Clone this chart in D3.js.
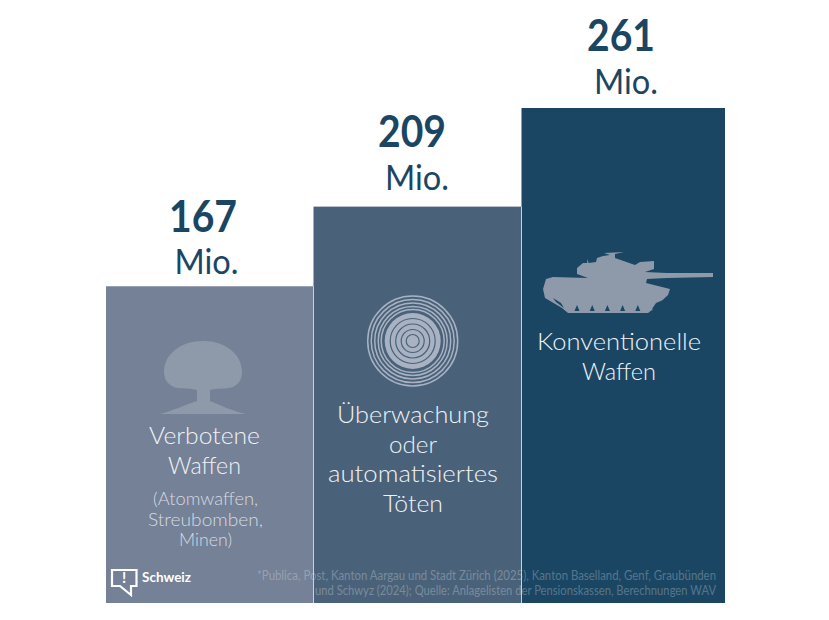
<!DOCTYPE html>
<html lang="de">
<head>
<meta charset="utf-8">
<script src="https://cdn.jsdelivr.net/npm/d3@7"></script>
<style>
  html, body { margin: 0; background: #fff; }
  svg { display: block; }
  text { font-family: Lato, "Noto Sans", sans-serif; }
</style>
</head>
<body>
<svg id="chart" width="829" height="620"></svg>
<script>
const categories = ["Verbotene Waffen", "Überwachung oder automatisiertes Töten", "Konventionelle Waffen"];
const values = [167, 209, 261];
const barColors = ["#748196", "#4a6279", "#1a4663"];
const labelLines = [
  ["Verbotene", "Waffen"],
  ["Überwachung", "oder", "automatisiertes", "Töten"],
  ["Konventionelle", "Waffen"]
];
const subLines = ["(Atomwaffen,", "Streubomben,", "Minen)"];
const footnoteLines = [
  "*Publica, Post, Kanton Aargau und Stadt Zürich (2025), Kanton Baselland, Genf, Graubünden",
  "und Schwyz (2024); Quelle: Anlagelisten der Pensionskassen, Berechnungen WAV"
];
const unit = "Mio.";
const brand = "Schweiz";

const svg = d3.select("#chart");
const navy = "#1a4663";

// Bars sit edge to edge on a shared baseline; the last one is a little narrower.
const xEdge = d3.scaleLinear().domain([0, 1, 2, 3]).range([106, 313.5, 521.5, 725]);
const y = d3.scaleLinear().domain([0, 261]).range([603, 108]);

// Text columns are set slightly off the bar centres.
const numberX = d3.scaleLinear().domain([0, 2]).range([203, 621]);
const unitX = d3.scaleLinear().domain([0, 1, 2]).range([206.5, 417, 626]);
const labelX = d3.scaleLinear().domain([0, 1, 2]).range([204.5, 413, 619]);
const numberY = [232, 147, 51];
const unitY = [274, 190, 94];

svg.selectAll("rect.bar").data(values).join("rect")
  .attr("class", "bar")
  .attr("x", (d, i) => xEdge(i))
  .attr("width", (d, i) => xEdge(i + 1) - xEdge(i))
  .attr("y", d => y(d))
  .attr("height", d => y(0) - y(d))
  .attr("fill", (d, i) => barColors[i]);

// Value headings above each bar
svg.selectAll("text.num").data(values).join("text")
  .attr("class", "num")
  .attr("x", (d, i) => numberX(i)).attr("y", (d, i) => numberY[i])
  .attr("text-anchor", "middle")
  .attr("font-size", 43).attr("font-weight", 700).attr("fill", navy)
  .attr("textLength", 68).attr("lengthAdjust", "spacingAndGlyphs")
  .text(d => d);
svg.selectAll("text.unit").data(values).join("text")
  .attr("class", "unit")
  .attr("x", (d, i) => unitX(i)).attr("y", (d, i) => unitY[i])
  .attr("text-anchor", "middle")
  .attr("font-size", 35).attr("fill", navy)
  .attr("textLength", 64).attr("lengthAdjust", "spacingAndGlyphs")
  .text(unit);

// Multi-line labels inside the bars
const labelTop = [444, 423, 350];
const labelWidths = [[111, 73], [152, 48, 170, 60], [164, 74]];
labelLines.forEach((lines, i) => {
  lines.forEach((line, k) => {
    svg.append("text")
      .attr("x", labelX(i)).attr("y", labelTop[i] + k * 29.6)
      .attr("text-anchor", "middle")
      .attr("font-size", 24).attr("fill", "#f0f2f6").attr("font-weight", 300)
      .attr("textLength", labelWidths[i][k]).attr("lengthAdjust", "spacingAndGlyphs")
      .text(line);
  });
});
const subWidths = [105, 115, 53];
subLines.forEach((line, k) => {
  svg.append("text")
    .attr("x", labelX(0) + 1).attr("y", 505 + k * 20.5)
    .attr("text-anchor", "middle")
    .attr("font-size", 17).attr("fill", "#d6dae2").attr("font-weight", 300)
    .attr("textLength", subWidths[k]).attr("lengthAdjust", "spacingAndGlyphs")
    .text(line);
});

// Footnote runs across all bars
const footWidths = [459, 401];
footnoteLines.forEach((line, k) => {
  svg.append("text")
    .attr("x", 716).attr("y", 580 + k * 15)
    .attr("text-anchor", "end")
    .attr("font-size", 12.5).attr("fill", "#fff").attr("fill-opacity", 0.27)
    .attr("textLength", footWidths[k]).attr("lengthAdjust", "spacingAndGlyphs")
    .text(line);
});

// Hairline dividers drawn over the footnote
svg.selectAll("line.div").data([1, 2]).join("line")
  .attr("class", "div")
  .attr("x1", d => xEdge(d)).attr("x2", d => xEdge(d))
  .attr("y1", d => y(values[d - 1]))
  .attr("y2", y(0))
  .attr("stroke", "#c9d1da").attr("stroke-width", 1);

// Mushroom cloud icon
const iconFill = "#8e99aa";
svg.append("path").attr("fill", iconFill)
  .attr("d", "M203 341C181 341 164 354 164 372C164 381 170 387 178 388C184 389 190 388 197 390L197 401C185 405 172 411 160 414L246 414C232 411 220 405 210 401L210 390C217 388 224 389 229 388C237 387 242 381 242 372C242 354 225 341 203 341Z");

// Concentric rings icon: a solid core cut by thin rings, with fine rings around it
const ringColor = "#a8b2c3";
const ringBack = barColors[1];
const outerRings = [45, 41.5, 38, 34.5, 31.5];
const coreCuts = [6.5, 11.5, 17, 22.5];
const rings = svg.append("g").attr("transform", "translate(412.7,341)");
rings.selectAll("circle.outer").data(outerRings).join("circle")
  .attr("class", "outer").attr("r", d => d)
  .attr("fill", "none").attr("stroke", ringColor).attr("stroke-width", 1.5);
rings.append("circle").attr("r", 28).attr("fill", ringColor);
rings.selectAll("circle.cut").data(coreCuts).join("circle")
  .attr("class", "cut").attr("r", d => d)
  .attr("fill", "none").attr("stroke", ringBack).attr("stroke-width", 1.2);

// Tank silhouette icon
svg.append("path").attr("fill", iconFill)
  .attr("d", "M543 289L546 279L553 277L588 278L577 274L577 268L583 263L587 263L587.500 259L588.500 263L596 262L597 258L603 256L610 255L604 253L624 252L615 254L615 258L635 265L640 262L654 261L654 269L645 272L667 273L713 273L713 277L667 278L647 279L646 283L670 289L668 295L652 310L648 313L568 313L562 308L545 298Z");
svg.append("g").attr("fill", navy).selectAll("path").data([0, 1, 2, 3, 4]).join("path")
  .attr("d", d => `M${574.500 + d * 15.2} 311L${577 + d * 15.2} 305L${579.500 + d * 15.2} 311Z`);
svg.append("g").attr("fill", navy).selectAll("path")
  .data(["M553 298L561 303L564 308L556 302Z", "M656 303L663 300L655 309L652 309Z"]).join("path")
  .attr("d", d => d);

// Brand badge
svg.append("path").attr("fill", "none").attr("stroke", "#fff").attr("stroke-width", 2.2)
  .attr("d", "M112 570L136.500 570L136.500 586L131 586L131 595L120 586L112 586Z");
svg.append("text").attr("x", 124).attr("y", 583).attr("text-anchor", "middle")
  .attr("font-size", 15).attr("font-weight", 700).attr("fill", "#fff").text("!");
svg.append("text").attr("x", 142).attr("y", 582)
  .attr("font-size", 14).attr("font-weight", 700).attr("fill", "#fff")
  .attr("textLength", 49).attr("lengthAdjust", "spacingAndGlyphs").text(brand);
</script>
</body>
</html>
